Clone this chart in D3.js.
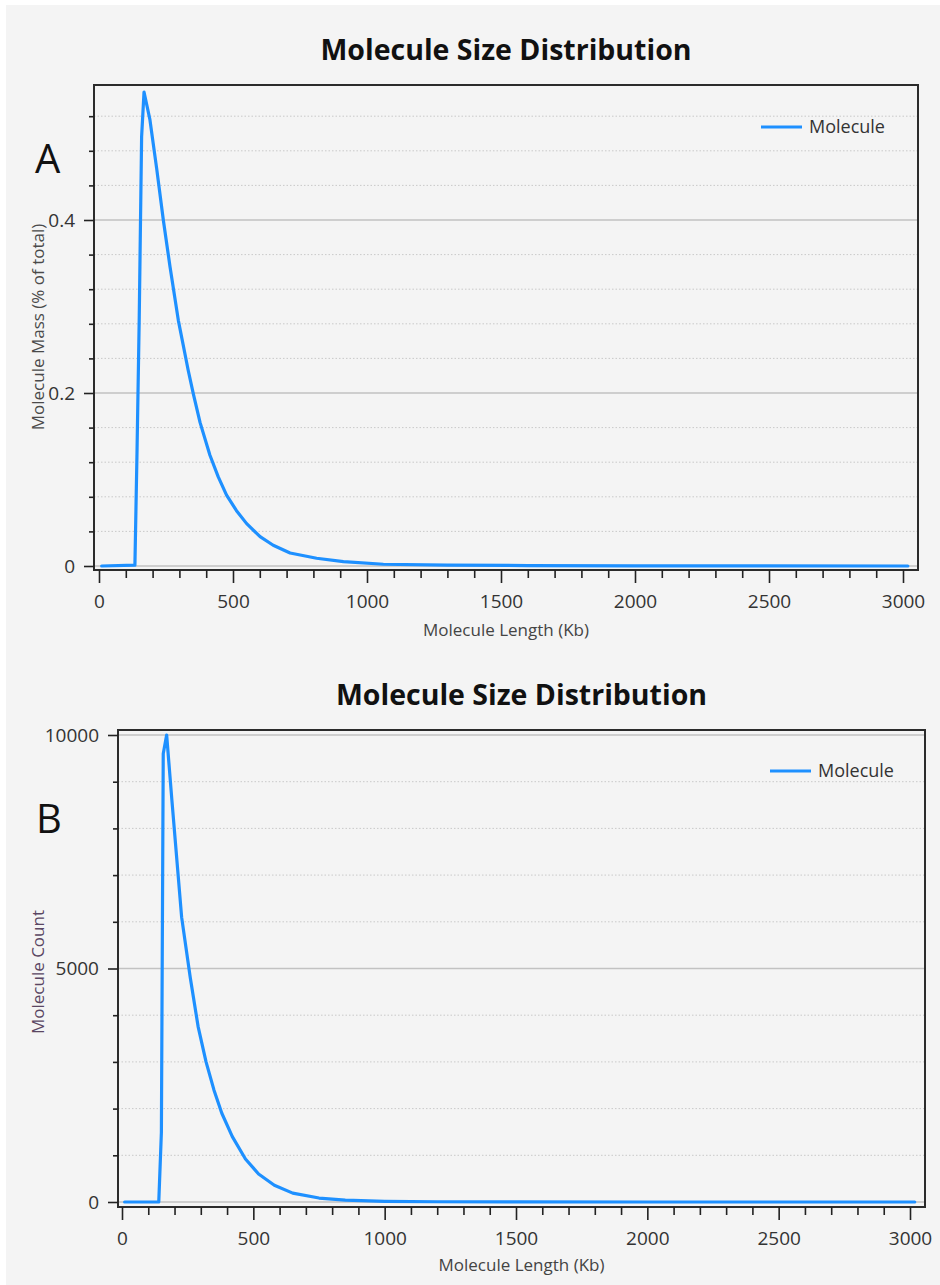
<!DOCTYPE html>
<html><head><meta charset="utf-8">
<script src="https://cdn.jsdelivr.net/npm/d3@7"></script>
<style>
body{margin:0;background:#fff}
svg{display:block}
text{font-family:"Open Sans","Noto Sans",sans-serif}
</style>
</head><body>
<svg id="c" width="940" height="1285"></svg>
<script>
// ---------- data ----------
const chartTitle = "Molecule Size Distribution";
const seriesName = "Molecule";
const xAxisTitle = "Molecule Length (Kb)";
const massAxisTitle = "Molecule Mass (% of total)";
const countAxisTitle = "Molecule Count";
const panelLabels = ["A", "B"];

const massLengths = [10, 134, 142, 150, 159, 168, 190, 215, 240, 265, 296, 333, 352, 377, 414, 445, 476, 513, 551, 601, 650, 713, 812, 912, 1061, 1300, 1600, 2000, 3018];
const massValues  = [0, 0.001, 0.134, 0.284, 0.496, 0.548, 0.516, 0.46, 0.40, 0.346, 0.284, 0.226, 0.199, 0.166, 0.128, 0.103, 0.082, 0.064, 0.049, 0.034, 0.024, 0.015, 0.009, 0.005, 0.002, 0.001, 0.0005, 0.0002, 0];

const countLengths = [10, 140, 150, 157, 170, 190, 227, 260, 290, 320, 350, 380, 420, 470, 520, 580, 650, 750, 850, 1000, 1200, 1500, 2000, 3018];
const countValues  = [0, 0, 1500, 9600, 10000, 8600, 6100, 4800, 3750, 3000, 2400, 1900, 1400, 920, 600, 360, 190, 85, 40, 15, 5, 2, 0, 0];

const xMajorTicks = [0, 500, 1000, 1500, 2000, 2500, 3000];
const xMinorTicks = [100,200,300,400,600,700,800,900,1100,1200,1300,1400,1600,1700,1800,1900,2100,2200,2300,2400,2600,2700,2800,2900];
const massMajorTicks = [0, 0.2, 0.4];
const massMinorTicks = [0.04, 0.08, 0.12, 0.16, 0.24, 0.28, 0.32, 0.36, 0.44, 0.48, 0.52];
const countMajorTicks = [0, 5000, 10000];
const countMinorTicks = [1000, 2000, 3000, 4000, 6000, 7000, 8000, 9000];

// ---------- drawing ----------
const svg = d3.select("#c");
svg.append("rect").attr("x", 6).attr("y", 5).attr("width", 934).attr("height", 1280).attr("fill", "#f4f4f4");

const LINE = "#1e90ff";

function panel(cfg) {
  const g = svg.append("g");
  const x = d3.scaleLinear().domain([0, 3000]).range(cfg.xr);
  const y = d3.scaleLinear().domain(cfg.yd).range(cfg.yr);
  const f = cfg.frame;

  // title
  g.append("text").attr("x", (f.x0 + f.x1) / 2).attr("y", cfg.titleY)
    .attr("text-anchor", "middle").attr("font-weight", "bold").attr("font-size", 28.5)
    .attr("fill", "#111").text(chartTitle);

  // panel letter
  g.append("text").attr("x", cfg.letterX).attr("y", cfg.letterY)
    .attr("font-size", 40).attr("fill", "#111").text(cfg.letter);

  // gridlines
  g.append("g").selectAll("line").data(cfg.yMinor).join("line")
    .attr("x1", f.x0).attr("x2", f.x1).attr("y1", d => y(d)).attr("y2", d => y(d))
    .attr("stroke", "#c9c9c9").attr("stroke-width", 1).attr("stroke-dasharray", "1.5,2");
  g.append("g").selectAll("line").data(cfg.yMajor).join("line")
    .attr("x1", f.x0).attr("x2", f.x1).attr("y1", d => y(d)).attr("y2", d => y(d))
    .attr("stroke", "#c2c2c2").attr("stroke-width", 1.6);

  // curve
  const pts = cfg.xs.map((v, i) => [v, cfg.ys[i]]);
  g.append("path").datum(pts)
    .attr("d", d3.line().x(d => x(d[0])).y(d => y(d[1])))
    .attr("fill", "none").attr("stroke", LINE).attr("stroke-width", 3.2)
    .attr("stroke-linejoin", "round").attr("stroke-linecap", "round");

  // frame
  g.append("rect").attr("x", f.x0).attr("y", f.y0).attr("width", f.x1 - f.x0).attr("height", f.y1 - f.y0)
    .attr("fill", "none").attr("stroke", "#2b2b2b").attr("stroke-width", 2);

  const styleAxis = (sel) => {
    sel.select(".domain").remove();
    sel.selectAll(".tick line").attr("stroke", "#222").attr("stroke-width", 1.6);
    sel.selectAll(".tick text").attr("font-size", 19).attr("fill", "#333")
      .style("font-family", '"Open Sans","Noto Sans",sans-serif');
  };

  // y axes
  g.append("g").attr("transform", `translate(${f.x0},0)`)
    .call(d3.axisLeft(y).tickValues(cfg.yMinor).tickSize(5).tickFormat(""))
    .call(styleAxis);
  g.append("g").attr("transform", `translate(${f.x0},0)`)
    .call(d3.axisLeft(y).tickValues(cfg.yMajor).tickSize(10).tickPadding(cfg.yPad).tickFormat(cfg.yFmt))
    .call(styleAxis);

  // x axes
  g.append("g").attr("transform", `translate(0,${f.y1})`)
    .call(d3.axisBottom(x).tickValues(xMinorTicks).tickSize(8).tickFormat(""))
    .call(styleAxis);
  g.append("g").attr("transform", `translate(0,${f.y1})`)
    .call(d3.axisBottom(x).tickValues(xMajorTicks).tickSize(13).tickPadding(12).tickFormat(d3.format("d")))
    .call(styleAxis);

  // axis titles
  g.append("text").attr("x", (f.x0 + f.x1) / 2).attr("y", cfg.xTitleY)
    .attr("text-anchor", "middle").attr("font-size", 17).attr("fill", "#444").text(xAxisTitle);
  g.append("text").attr("transform", `translate(${cfg.yTitleX},${cfg.yTitleY}) rotate(-90)`)
    .attr("text-anchor", "middle").attr("font-size", 17).attr("fill", cfg.yTitleColor).text(cfg.yTitle);

  // legend
  const lg = g.append("g").attr("transform", `translate(${cfg.legX},${cfg.legY})`);
  lg.append("line").attr("x1", 0).attr("x2", 41).attr("y1", 0).attr("y2", 0)
    .attr("stroke", LINE).attr("stroke-width", 3);
  lg.append("text").attr("x", 48).attr("y", 0).attr("dy", "0.35em")
    .attr("font-size", 18).attr("fill", "#333").text(seriesName);
}

panel({
  frame: {x0: 94, x1: 918, y0: 85, y1: 570},
  xr: [99, 903], yd: [0, 0.4], yr: [566, 220],
  xs: massLengths, ys: massValues,
  yMajor: massMajorTicks, yMinor: massMinorTicks, yPad: 9,
  yFmt: d => d === 0 ? "0" : d3.format(".1f")(d),
  titleY: 60, letter: panelLabels[0], letterX: 35, letterY: 173,
  xTitleY: 636, yTitleX: 44, yTitleY: 327, yTitle: massAxisTitle, yTitleColor: "#4a4a4a",
  legX: 761, legY: 127
});

panel({
  frame: {x0: 118, x1: 925, y0: 730, y1: 1207},
  xr: [122, 910], yd: [0, 10000], yr: [1202, 735],
  xs: countLengths, ys: countValues,
  yMajor: countMajorTicks, yMinor: countMinorTicks, yPad: 9,
  yFmt: d3.format("d"),
  titleY: 705, letter: panelLabels[1], letterX: 36, letterY: 833,
  xTitleY: 1271, yTitleX: 44, yTitleY: 972, yTitle: countAxisTitle, yTitleColor: "#5a4662",
  legX: 770, legY: 771
});
</script>
</body></html>
